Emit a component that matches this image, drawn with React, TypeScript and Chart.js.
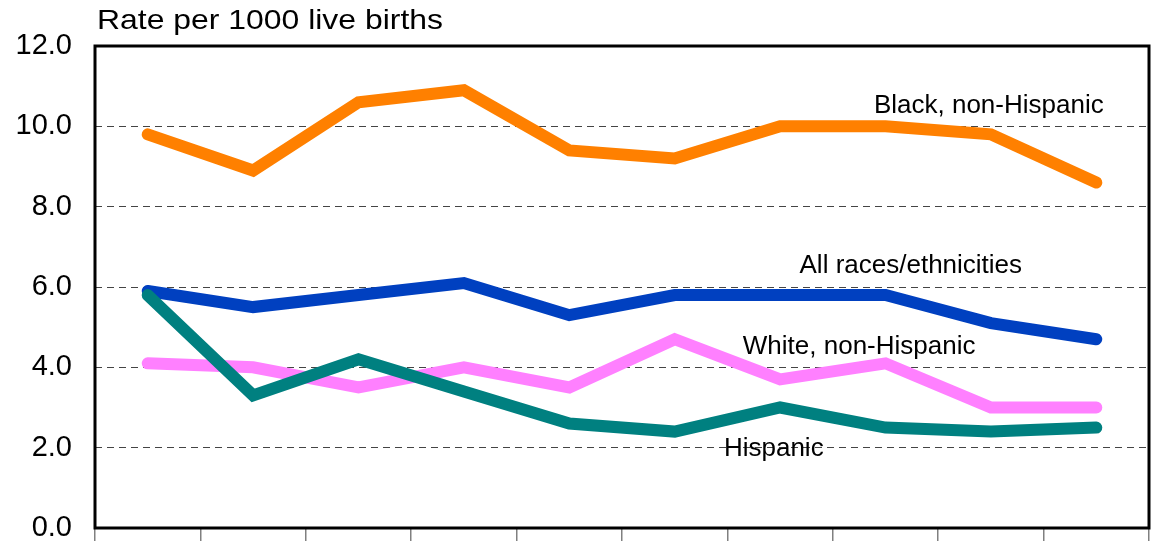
import React, { useEffect, useRef } from "react";
import { Chart, registerables } from "chart.js";

Chart.register(...registerables);

const categories = ["1", "2", "3", "4", "5", "6", "7", "8", "9", "10"];
const blackNonHispanic = [9.8, 8.9, 10.6, 10.9, 9.4, 9.2, 10.0, 10.0, 9.8, 8.6];
const allRaces = [5.9, 5.5, 5.8, 6.1, 5.3, 5.8, 5.8, 5.8, 5.1, 4.7];
const whiteNonHispanic = [4.1, 4.0, 3.5, 4.0, 3.5, 4.7, 3.7, 4.1, 3.0, 3.0];
const hispanic = [5.8, 3.3, 4.2, 3.4, 2.6, 2.4, 3.0, 2.5, 2.4, 2.5];
const yTicks = [0, 2, 4, 6, 8, 10, 12];

const seriesLabels = [
  { text: "Black, non-Hispanic", xIndex: 7.98, y: 10.52 },
  { text: "All races/ethnicities", xIndex: 7.24, y: 6.52 },
  { text: "White, non-Hispanic", xIndex: 6.75, y: 4.52 },
  { text: "Hispanic", xIndex: 5.94, y: 1.97 },
];

const FONT = "Arial, 'Liberation Sans', sans-serif";

const overlayPlugin = {
  id: "overlay",
  beforeDatasetsDraw(chart: any) {
    const { ctx, chartArea } = chart;
    ctx.save();
    ctx.strokeStyle = "#000";
    ctx.lineWidth = 3;
    ctx.strokeRect(chartArea.left, chartArea.top, chartArea.right - chartArea.left, chartArea.bottom - chartArea.top);
    ctx.restore();
  },
  afterDatasetsDraw(chart: any) {
    const { ctx, chartArea, scales } = chart;
    ctx.save();
    ctx.fillStyle = "#000";
    ctx.font = `28px ${FONT}`;
    ctx.textAlign = "left";
    ctx.textBaseline = "middle";
    ctx.translate(chartArea.left + 2, 21);
    ctx.scale(1.14, 1);
    ctx.fillText("Rate per 1000 live births", 0, 0);
    ctx.restore();
    ctx.save();
    ctx.fillStyle = "#000";
    ctx.font = `26px ${FONT}`;
    ctx.textAlign = "center";
    ctx.textBaseline = "middle";
    for (const l of seriesLabels) {
      const x0 = scales.x.getPixelForValue(Math.floor(l.xIndex));
      const x1 = scales.x.getPixelForValue(Math.floor(l.xIndex) + 1);
      const x = x0 + (x1 - x0) * (l.xIndex - Math.floor(l.xIndex));
      ctx.fillText(l.text, x, scales.y.getPixelForValue(l.y));
    }
    ctx.restore();
  },
};

export default function App() {
  const ref = useRef<HTMLCanvasElement | null>(null);
  useEffect(() => {
    document.body.style.margin = "0";
    const ds = (data: number[], color: string) => ({
      data,
      borderColor: color,
      backgroundColor: color,
      borderWidth: 12,
      pointRadius: 0,
      borderCapStyle: "round" as const,
      borderJoinStyle: "miter" as const,
      tension: 0,
    });
    const chart = new Chart(ref.current as HTMLCanvasElement, {
      type: "line",
      data: {
        labels: categories,
        datasets: [
          ds(hispanic, "#008080"),
          ds(whiteNonHispanic, "#FF80FF"),
          ds(allRaces, "#0040C0"),
          ds(blackNonHispanic, "#FF8000"),
        ],
      },
      options: {
        animation: false,
        responsive: false,
        devicePixelRatio: 1,
        layout: { padding: { left: 0, right: 5, top: 46, bottom: 0 } },
        plugins: { legend: { display: false }, tooltip: { enabled: false } },
        scales: {
          x: {
            type: "category",
            offset: true,
            grid: { offset: true, drawOnChartArea: false, drawTicks: true, tickLength: 13, color: "#808080", lineWidth: 1.5 },
            border: { display: false },
            ticks: { display: false, padding: 0 },
            afterFit: (s: any) => { s.height = 14; },
          },
          y: {
            min: 0,
            max: 12,
            afterBuildTicks: (s: any) => { s.ticks = yTicks.map((v) => ({ value: v })); },
            grid: {
              drawTicks: true,
              tickLength: 23,
              tickColor: "rgba(0,0,0,0)",
              color: (c: any) => (c.tick && (c.tick.value === 0 || c.tick.value === 12) ? "rgba(0,0,0,0)" : "#444"),
              lineWidth: 1,
            },
            border: { display: false, dash: [7, 5] },
            ticks: {
              padding: 0,
              color: "#000",
              font: { size: 29, family: FONT, lineHeight: 0.05 },
              callback: (v: any) => Number(v).toFixed(1),
            },
            afterFit: (s: any) => { s.width = 95; },
          },
        },
      },
      plugins: [overlayPlugin],
    });
    return () => chart.destroy();
  }, []);
  return <canvas ref={ref} width={1154} height={542} style={{ display: "block" }} />;
}
